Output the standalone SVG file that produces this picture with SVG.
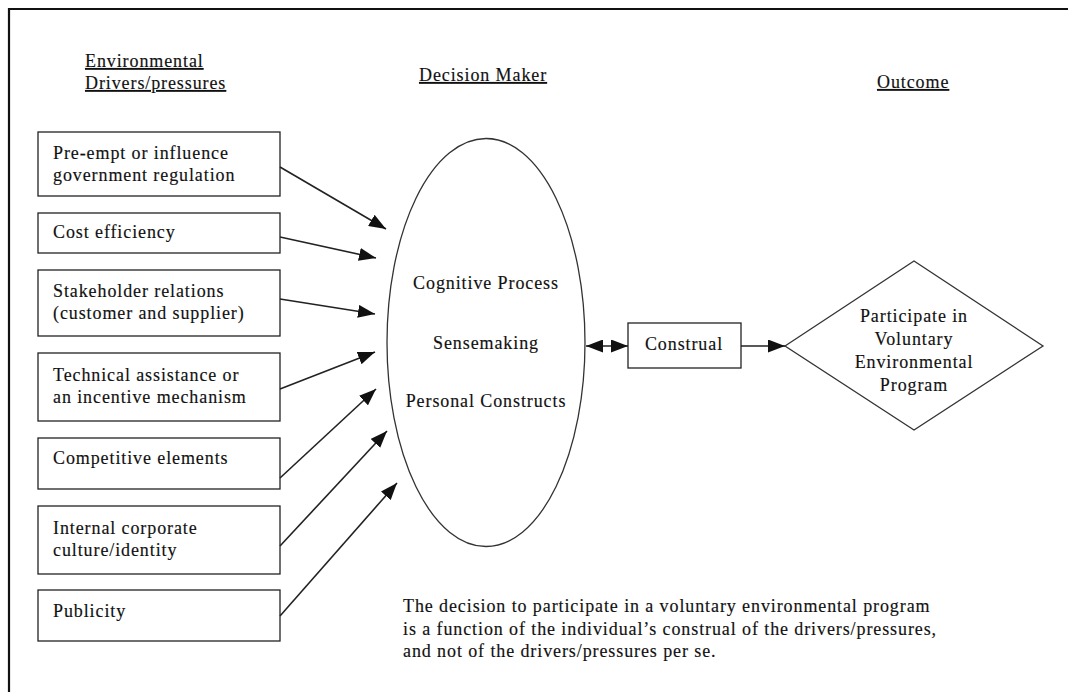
<svg xmlns="http://www.w3.org/2000/svg" width="1068" height="692" viewBox="0 0 1068 692">
  <style>
    text { font-family: "Liberation Serif", "Times New Roman", serif; font-size: 18px; letter-spacing: 0.9px; fill: #111; stroke: #111; stroke-width: 0.15; }
    .hdr { text-decoration: underline; }
    .mid { text-anchor: middle; }
    .box { fill: #fff; stroke: #222; stroke-width: 1.3; }
    .shape { fill: #fff; stroke: #333; stroke-width: 1.3; }
    .conn line { stroke: #222; stroke-width: 1.6; }
  </style>
  <defs>
    <marker id="arrow" viewBox="0 0 17 13" refX="17" refY="6.5" markerWidth="17" markerHeight="13" markerUnits="userSpaceOnUse" orient="auto-start-reverse">
      <path d="M0,0 L17,6.5 L0,13 Z" fill="#111"/>
    </marker>
  </defs>

  <rect width="1068" height="692" fill="#fff"/>
  <!-- frame -->
  <path d="M9,720 L9,9 L1080,9" fill="none" stroke="#111" stroke-width="2.2"/>

  <!-- column headings -->
  <g id="headings">
    <text class="hdr" x="85" y="67">Environmental</text>
    <text class="hdr" x="85" y="89">Drivers/pressures</text>
    <text class="hdr" x="419" y="81">Decision Maker</text>
    <text class="hdr" x="877" y="88">Outcome</text>
  </g>

  <!-- drivers -->
  <g id="driver-regulation">
    <rect class="box" x="38" y="132" width="242" height="64"/>
    <text x="53" y="159">Pre-empt or influence</text>
    <text x="53" y="181">government regulation</text>
  </g>
  <g id="driver-cost">
    <rect class="box" x="38" y="213" width="242" height="40"/>
    <text x="53" y="238">Cost efficiency</text>
  </g>
  <g id="driver-stakeholder">
    <rect class="box" x="38" y="270" width="242" height="66"/>
    <text x="53" y="297">Stakeholder relations</text>
    <text x="53" y="319">(customer and supplier)</text>
  </g>
  <g id="driver-technical">
    <rect class="box" x="38" y="353" width="242" height="68"/>
    <text x="53" y="381">Technical assistance or</text>
    <text x="53" y="403">an incentive mechanism</text>
  </g>
  <g id="driver-competitive">
    <rect class="box" x="38" y="438" width="242" height="51"/>
    <text x="53" y="464">Competitive elements</text>
  </g>
  <g id="driver-culture">
    <rect class="box" x="38" y="506" width="242" height="68"/>
    <text x="53" y="534">Internal corporate</text>
    <text x="53" y="556">culture/identity</text>
  </g>
  <g id="driver-publicity">
    <rect class="box" x="38" y="590" width="242" height="51"/>
    <text x="53" y="617">Publicity</text>
  </g>

  <!-- decision maker -->
  <g id="decision-maker">
    <ellipse class="shape" cx="486" cy="342.5" rx="99" ry="204"/>
    <text class="mid" x="486" y="289">Cognitive Process</text>
    <text class="mid" x="486" y="349">Sensemaking</text>
    <text class="mid" x="486" y="407">Personal Constructs</text>
  </g>

  <!-- construal -->
  <g id="construal">
    <rect class="box" x="628" y="323" width="113" height="45"/>
    <text class="mid" x="684" y="350">Construal</text>
  </g>

  <!-- outcome -->
  <g id="outcome">
    <polygon class="shape" points="785,346 914,261 1043,346 914,430"/>
    <text class="mid" x="914" y="322">Participate in</text>
    <text class="mid" x="914" y="345">Voluntary</text>
    <text class="mid" x="914" y="368">Environmental</text>
    <text class="mid" x="914" y="391">Program</text>
  </g>

  <!-- connectors -->
  <g id="connectors" class="conn">
    <line x1="280" y1="167" x2="386" y2="229" marker-end="url(#arrow)"/>
    <line x1="280" y1="237" x2="376" y2="258" marker-end="url(#arrow)"/>
    <line x1="280" y1="299" x2="375" y2="314" marker-end="url(#arrow)"/>
    <line x1="280" y1="389" x2="375" y2="352" marker-end="url(#arrow)"/>
    <line x1="280" y1="478" x2="376" y2="389" marker-end="url(#arrow)"/>
    <line x1="280" y1="546" x2="387" y2="431" marker-end="url(#arrow)"/>
    <line x1="280" y1="616" x2="397" y2="483" marker-end="url(#arrow)"/>
    <line x1="586" y1="346" x2="628" y2="346" marker-start="url(#arrow)" marker-end="url(#arrow)"/>
    <line x1="741" y1="346" x2="785" y2="346" marker-end="url(#arrow)"/>
  </g>

  <!-- note -->
  <g id="note">
    <text x="403" y="612">The decision to participate in a voluntary environmental program</text>
    <text x="403" y="635">is a function of the individual’s construal of the drivers/pressures,</text>
    <text x="403" y="657">and not of the drivers/pressures per se.</text>
  </g>
</svg>
